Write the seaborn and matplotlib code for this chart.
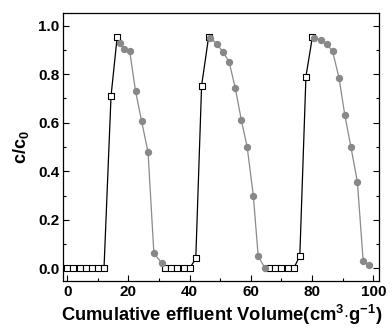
import matplotlib
matplotlib.use("Agg")
import matplotlib.pyplot as plt
from matplotlib.ticker import MultipleLocator
import seaborn as sns
import pandas as pd

# adsorption (open squares), three cycles
ads_x1 = [0, 2, 4, 6, 8, 10, 12, 14.3, 16.3]
ads_y1 = [0, 0, 0, 0, 0, 0, 0, 0.71, 0.952]
ads_x2 = [32, 34, 36, 38, 40, 42.0, 43.9, 46.2]
ads_y2 = [0, 0, 0, 0, 0, 0.042, 0.753, 0.953]
ads_x3 = [66, 68, 70, 72, 74, 76.0, 78.0, 80.1]
ads_y3 = [0, 0, 0, 0, 0, 0.052, 0.79, 0.952]

# desorption (gray circles), three cycles
des_x1 = [17.1, 18.4, 20.4, 22.3, 24.3, 26.4, 28.3, 30.8]
des_y1 = [0.93, 0.905, 0.894, 0.731, 0.606, 0.478, 0.063, 0.023]
des_x2 = [46.8, 48.9, 50.8, 52.9, 54.9, 56.9, 58.8, 60.8, 62.4, 64.6]
des_y2 = [0.95, 0.923, 0.893, 0.85, 0.743, 0.61, 0.499, 0.30, 0.05, 0.002]
des_x3 = [80.6, 82.8, 84.8, 86.7, 88.8, 90.7, 92.7, 94.8, 96.7, 98.7]
des_y3 = [0.950, 0.941, 0.923, 0.895, 0.785, 0.632, 0.50, 0.357, 0.032, 0.014]

xticks = [0, 20, 40, 60, 80, 100]
yticks = [0.0, 0.2, 0.4, 0.6, 0.8, 1.0]


def frame(xs, ys):
    parts = []
    for i, (x, y) in enumerate(zip(xs, ys)):
        parts.append(pd.DataFrame({"x": x, "y": y, "seg": i}))
    return pd.concat(parts, ignore_index=True)


ads = frame([ads_x1, ads_x2, ads_x3], [ads_y1, ads_y2, ads_y3])
des = frame([des_x1, des_x2, des_x3], [des_y1, des_y2, des_y3])

sns.set_theme(style="ticks")
plt.rcParams["font.family"] = ["Liberation Sans", "DejaVu Sans"]
plt.rcParams["font.weight"] = "bold"
plt.rcParams["mathtext.fontset"] = "custom"
plt.rcParams["mathtext.rm"] = "Liberation Sans:bold"
plt.rcParams["mathtext.bf"] = "Liberation Sans:bold"
plt.rcParams["mathtext.it"] = "Liberation Sans:bold"
for key in ["text.color", "axes.labelcolor", "xtick.color", "ytick.color",
            "axes.edgecolor", "xtick.labelcolor", "ytick.labelcolor"]:
    plt.rcParams[key] = "black"

fig = plt.figure(figsize=(3.92, 3.35), dpi=100)
ax = fig.add_axes([0.1615, 0.161, 0.8055, 0.799])

sns.lineplot(data=ads, x="x", y="y", units="seg", estimator=None, sort=False,
             color="black", linewidth=0.9, ax=ax, zorder=2)
sns.lineplot(data=des, x="x", y="y", units="seg", estimator=None, sort=False,
             color="#8a8a8a", linewidth=0.9, ax=ax, zorder=2)
sns.scatterplot(data=ads, x="x", y="y", marker="s", s=18, facecolor="white",
                edgecolor="black", linewidth=0.8, ax=ax, zorder=3)
sns.scatterplot(data=des, x="x", y="y", marker="o", s=28, color="#888888",
                edgecolor="#888888", linewidth=0, ax=ax, zorder=4)

ax.set_xlim(-1.3, 101.9)
ax.set_ylim(-0.052, 1.05)
ax.set_xticks(xticks)
ax.set_yticks(yticks)
ax.set_xticklabels([str(t) for t in xticks])
ax.set_yticklabels([f"{t:.1f}" for t in yticks])
ax.xaxis.set_minor_locator(MultipleLocator(10))
ax.yaxis.set_minor_locator(MultipleLocator(0.1))
ax.tick_params(which="both", direction="in", top=False, right=True,
               width=0.8, color="black", labelcolor="black")
ax.tick_params(which="major", length=4.5, labelsize=11, pad=3)
ax.tick_params(which="minor", length=2.5)
for lab in ax.get_xticklabels() + ax.get_yticklabels():
    lab.set_fontweight("bold")
for sp in ax.spines.values():
    sp.set_visible(True)
    sp.set_linewidth(0.9)
    sp.set_color("black")

ax.set_xlabel(r"Cumulative effluent Volume(cm$^{3}$$\cdot$g$^{-1}$)",
              fontsize=13.2, fontweight="bold", labelpad=3, color="black")
ax.set_ylabel(r"c/c$_{0}$", fontsize=13, fontweight="bold", labelpad=5,
              color="black")

fig.savefig("out.png", dpi=100)
